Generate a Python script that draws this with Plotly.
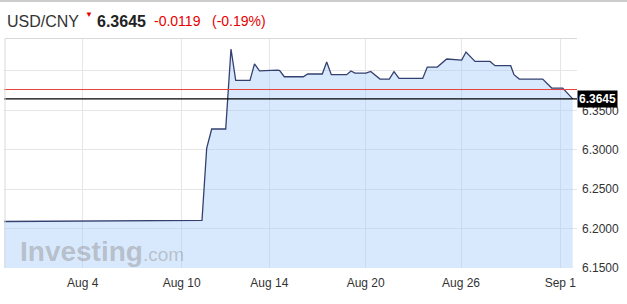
import plotly.graph_objects as go

# Trading-hour position along the (weekend-skipped) timeline, and USD/CNY rate
hours = [0, 100, 198, 202.7, 207.7, 221.7, 227, 231.7, 246, 250.5, 255.5, 273.7, 275.7,
         280.3, 299.3, 303.7, 318.3, 322.7, 327.3, 342.7, 347, 351, 362, 366.7, 376,
         385.3, 390, 395, 418.7, 423.3, 433.3, 442.7, 457.7, 462, 471, 486, 491, 506.7,
         510, 515.3, 538.7, 547.7, 558.7, 568.7]
rate = [6.2090, 6.2098, 6.2103, 6.3022, 6.3263, 6.3263, 6.4278, 6.3879, 6.3879, 6.4089,
        6.4000, 6.4009, 6.4003, 6.3926, 6.3926, 6.3961, 6.3961, 6.4113, 6.3952, 6.3952,
        6.3999, 6.3973, 6.3973, 6.3994, 6.3897, 6.3897, 6.3990, 6.3905, 6.3905, 6.4049,
        6.4049, 6.4151, 6.4138, 6.4240, 6.4121, 6.4121, 6.4066, 6.4066, 6.3952, 6.3897,
        6.3897, 6.3783, 6.3783, 6.3645]

tick_pos = [78.7, 177.7, 265.3, 361.7, 457, 556.3]
tick_labels = ["Aug 4", "Aug 10", "Aug 14", "Aug 20", "Aug 26", "Sep 1"]

y_ticks = [6.15, 6.20, 6.25, 6.30, 6.35, 6.40]
y_tick_labels = ["6.1500", "6.2000", "6.2500", "6.3000", "6.3500", ""]

symbol = "USD/CNY"
last = 6.3645
prev_close = 6.3764
change = "-0.0119"
change_pct = "(-0.19%)"

W, H = 627, 304
L, R, T, B = 4, 50, 39, 36
PW, PH = W - L - R, H - T - B


def px(x):
    return (x - L) / PW


def py(y):
    return (H - B - y) / PH


fig = go.Figure()
fig.add_trace(go.Scatter(
    x=hours, y=rate, mode="lines",
    line=dict(color="#34406f", width=1.3),
    fill="tozeroy", fillcolor="rgba(160,200,250,0.40)",
    hoverinfo="skip", showlegend=False,
))

shapes = [
    dict(type="line", xref="paper", yref="y", x0=0, x1=1, y0=prev_close, y1=prev_close,
         line=dict(color="#e8403a", width=1)),
    dict(type="line", xref="paper", yref="y", x0=0, x1=1, y0=last, y1=last,
         line=dict(color="#000000", width=1.2)),
    dict(type="line", xref="paper", yref="paper", x0=px(5), x1=1, y0=py(38.5), y1=py(38.5),
         line=dict(color="#d9d9d9", width=1)),
    dict(type="line", xref="paper", yref="paper", x0=px(5), x1=px(5), y0=0, y1=py(38.5),
         line=dict(color="#d9d9d9", width=1)),
    dict(type="line", xref="paper", yref="paper", x0=px(0), x1=px(W), y0=py(1), y1=py(1),
         line=dict(color="#cccccc", width=2)),
]

ann = [
    dict(text=symbol, x=px(5), y=py(21), font=dict(size=16, color="#333333")),
    dict(text="▼", x=px(83), y=py(15), font=dict(size=8, color="#e60000")),
    dict(text="<b>%.4f</b>" % last, x=px(95), y=py(21), font=dict(size=16, color="#222222")),
    dict(text=change, x=px(152), y=py(21.5), font=dict(size=14, color="#e60000")),
    dict(text=change_pct, x=px(210), y=py(21.5), font=dict(size=14, color="#e60000")),
    dict(text="<b>Investing</b><span style='font-size:19px'>.com</span>", x=px(18), y=py(251),
         font=dict(size=28, color="rgba(140,140,140,0.45)")),
]
for a in ann:
    a.update(xref="paper", yref="paper", xanchor="left", yanchor="middle", showarrow=False)

ann.append(dict(text="<b>%.4f</b>" % last, xref="paper", yref="y", x=1, y=last,
                xanchor="left", yanchor="middle", showarrow=False,
                bgcolor="#000000", borderpad=1,
                font=dict(size=12, color="#ffffff", family="Liberation Sans, Arial")))

fig.update_layout(
    width=W, height=H,
    margin=dict(l=L, r=R, t=T, b=B),
    paper_bgcolor="white", plot_bgcolor="white",
    font=dict(family="Liberation Sans, Arial, sans-serif", size=12, color="#333333"),
    shapes=shapes, annotations=ann,
    xaxis=dict(range=[0, PW], tickvals=tick_pos, ticktext=tick_labels,
               showgrid=True, gridcolor="#e6e6e6", gridwidth=1, zeroline=False,
               showline=False, ticks="", tickfont=dict(size=12, color="#333333"),
               ticklabelstandoff=6, fixedrange=True),
    yaxis=dict(range=[6.15, 6.4405], side="right", tickvals=y_ticks, ticktext=y_tick_labels,
               showgrid=True, gridcolor="#e6e6e6", gridwidth=1, zeroline=False,
               showline=False, ticks="", tickfont=dict(size=12, color="#333333"),
               ticklabelstandoff=4, fixedrange=True),
)

fig.write_html("out.html", config=dict(displayModeBar=False))
